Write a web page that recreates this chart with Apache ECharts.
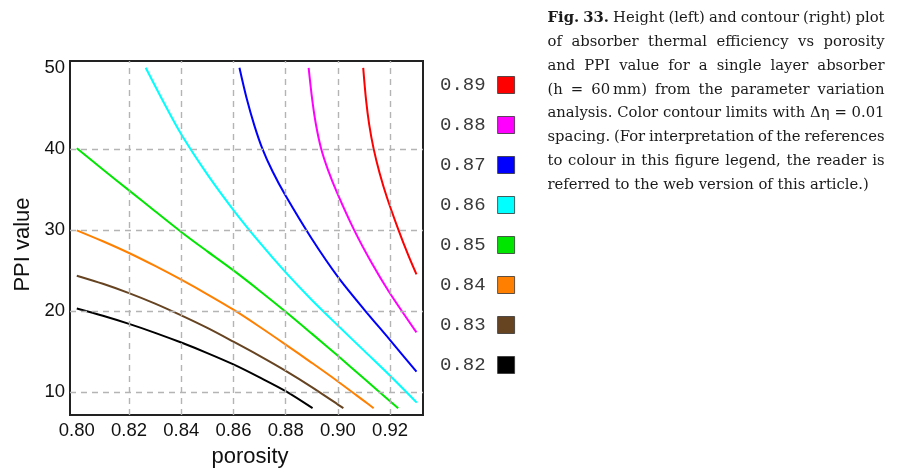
<!DOCTYPE html>
<html>
<head>
<meta charset="utf-8">
<script src="https://cdn.jsdelivr.net/npm/echarts@6/dist/echarts.min.js"></script>
<style>
  html, body { margin: 0; padding: 0; background: #fff; }
  #chart { width: 902px; height: 468px; }
</style>
</head>
<body>
<div id="chart"></div>
<script>
// Contour levels of absorber thermal efficiency (legend order, top to bottom)
const levels = ['0.89', '0.88', '0.87', '0.86', '0.85', '0.84', '0.83', '0.82'];
const levelColors = ['#ff0000', '#ff00ff', '#0000ff', '#00ffff', '#00e600', '#ff8000', '#664422', '#000000'];

// Contour lines: [porosity, PPI value]
const eta089 = [[0.9097, 50], [0.9108, 46], [0.9120, 43], [0.9137, 40], [0.9160, 37], [0.9188, 34], [0.9232, 30], [0.9268, 27], [0.9301, 24.5]];
const eta088 = [[0.8888, 50], [0.8902, 46], [0.8916, 43], [0.8936, 40], [0.8961, 37.5], [0.8998, 34.5], [0.9062, 30], [0.9128, 26], [0.9195, 22.4], [0.9301, 17.35]];
const eta087 = [[0.8623, 50], [0.8650, 46.3], [0.8680, 42.9], [0.8711, 40.0], [0.8750, 37.2], [0.8800, 34.2], [0.8900, 28.9], [0.9000, 24.2], [0.9100, 20.2], [0.9200, 16.4], [0.9301, 12.5]];
const eta086 = [[0.8264, 50], [0.833, 45.9], [0.84, 41.8], [0.85, 36.85], [0.86, 32.45], [0.87, 28.45], [0.88, 24.75], [0.89, 21.35], [0.90, 18.2], [0.91, 15.1], [0.92, 12.0], [0.9302, 8.69]];
const eta085 = [[0.80, 40.07], [0.81, 37.45], [0.82, 34.88], [0.83, 32.3], [0.84, 29.75], [0.85, 27.35], [0.86, 25.0], [0.87, 22.5], [0.88, 19.9], [0.89, 17.2], [0.90, 14.46], [0.91, 11.65], [0.9231, 8]];
const eta084 = [[0.80, 29.95], [0.81, 28.6], [0.82, 27.15], [0.83, 25.55], [0.84, 23.85], [0.85, 22.05], [0.86, 20.15], [0.87, 18.05], [0.88, 15.85], [0.89, 13.6], [0.90, 11.3], [0.91, 8.9], [0.9137, 8]];
const eta083 = [[0.80, 24.35], [0.81, 23.35], [0.82, 22.2], [0.83, 20.9], [0.84, 19.45], [0.85, 17.9], [0.86, 16.2], [0.87, 14.45], [0.88, 12.6], [0.89, 10.6], [0.90, 8.45], [0.9021, 8]];
const eta082 = [[0.80, 20.3], [0.81, 19.4], [0.82, 18.4], [0.83, 17.3], [0.84, 16.1], [0.85, 14.8], [0.86, 13.4], [0.87, 11.8], [0.88, 10.1], [0.8903, 8]];
const contourData = [eta089, eta088, eta087, eta086, eta085, eta084, eta083, eta082];

// Axis ticks and dashed grid positions
const porosityTicks = [0.80, 0.82, 0.84, 0.86, 0.88, 0.90, 0.92];
const ppiTicks = [10, 20, 30, 40, 50];
const porosityGrid = [0.82, 0.84, 0.86, 0.88, 0.90, 0.92];
const ppiGrid = [10, 20, 30, 40];

// Caption lines
const captionLines = [
  'Fig. 33. Height (left) and contour (right) plot',
  'of absorber thermal efficiency vs porosity',
  'and PPI value for a single layer absorber',
  '(h = 60\u2009mm) from the parameter variation',
  'analysis. Color contour limits with \u0394\u03b7 = 0.01',
  'spacing. (For interpretation of the references',
  'to colour in this figure legend, the reader is',
  'referred to the web version of this article.)'
];

const chart = echarts.init(document.getElementById('chart'), null, { renderer: 'canvas' });

// Justified caption built from measured words
const capFont = '"DejaVu Serif"';
const capSize = 14.8;
const capLeft = 547.5, capRight = 884.5, capTop = 20, capStep = 23.8;
const measureCtx = document.createElement('canvas').getContext('2d');
function wordWidth(word, bold) {
  measureCtx.font = (bold ? 'bold ' : '') + capSize + 'px ' + capFont;
  return measureCtx.measureText(word).width;
}
const captionGraphics = [];
captionLines.forEach((line, li) => {
  const words = line.split(' ');
  const bolds = words.map((w, wi) => li === 0 && wi < 2);
  const widths = words.map((w, wi) => wordWidth(w, bolds[wi]));
  const total = widths.reduce((a, b) => a + b, 0);
  const last = li === captionLines.length - 1;
  const gap = last ? wordWidth(' ', false) : (capRight - capLeft - total) / (words.length - 1);
  let x = capLeft;
  words.forEach((w, wi) => {
    captionGraphics.push({
      type: 'text',
      left: x,
      top: capTop + li * capStep - capSize * 0.62,
      style: {
        text: w,
        font: (bolds[wi] ? 'bold ' : '') + capSize + 'px ' + capFont,
        fill: '#1a1a1a'
      }
    });
    x += widths[wi] + gap;
  });
});

const gridLineStyle = { color: '#b4b4b4', type: [6, 5], width: 1.4 };

const series = [{
  type: 'line',
  name: '_grid',
  data: [],
  z: 1,
  silent: true,
  markLine: {
    silent: true,
    symbol: 'none',
    label: { show: false },
    lineStyle: gridLineStyle,
    emphasis: { disabled: true },
    data: porosityGrid.map(v => ({ xAxis: v })).concat(ppiGrid.map(v => ({ yAxis: v })))
  }
}];
levels.forEach((lv, i) => {
  series.push({
    type: 'line',
    name: lv,
    data: contourData[i],
    smooth: 0.3,
    showSymbol: false,
    z: 3,
    color: levelColors[i],
    lineStyle: { width: 2, color: levelColors[i] },
    itemStyle: { color: levelColors[i], borderColor: '#333', borderWidth: 0.8 },
    emphasis: { disabled: true }
  });
});

chart.setOption({
  animation: false,
  backgroundColor: '#ffffff',
  grid: {
    left: 70, top: 61, width: 353, height: 354,
    outerBoundsMode: 'none',
    containLabel: false,
    show: true, borderColor: '#222', borderWidth: 2, backgroundColor: 'transparent'
  },
  xAxis: {
    type: 'value',
    min: 0.7974, max: 0.9326,
    name: 'porosity',
    nameLocation: 'middle',
    nameGap: 31,
    nameTextStyle: { fontFamily: 'Liberation Sans', fontSize: 22, color: '#111', padding: [0, 0, 0, 7] },
    axisLine: { show: false },
    axisTick: { show: false, customValues: porosityTicks },
    splitLine: { show: false },
    axisLabel: {
      customValues: porosityTicks,
      formatter: v => v.toFixed(2),
      fontFamily: 'Liberation Sans', fontSize: 18.5, color: '#111', margin: 6
    }
  },
  yAxis: {
    type: 'value',
    min: 7.16, max: 50.84,
    name: 'PPI value',
    nameLocation: 'middle',
    nameGap: 36,
    nameRotate: 90,
    nameTextStyle: { fontFamily: 'Liberation Sans', fontSize: 22, color: '#111', padding: [0, 13, 0, 0] },
    axisLine: { show: false },
    axisTick: { show: false, customValues: ppiTicks },
    splitLine: { show: false },
    axisLabel: {
      customValues: ppiTicks,
      formatter: v => String(v),
      fontFamily: 'Liberation Sans', fontSize: 18.5, color: '#111', margin: 5
    }
  },
  legend: {
    orient: 'vertical',
    left: 440, top: 75.5,
    padding: 0,
    align: 'right',
    icon: 'rect',
    itemWidth: 17, itemHeight: 17, itemGap: 21,
    selectedMode: false,
    data: levels,
    itemStyle: { borderColor: '#333', borderWidth: 0.8 },
    textStyle: { fontFamily: 'Liberation Mono', fontSize: 19, color: '#3a3a3a', padding: [0, 7, 0, 0] }
  },
  graphic: captionGraphics,
  series: series
});
</script>
</body>
</html>
